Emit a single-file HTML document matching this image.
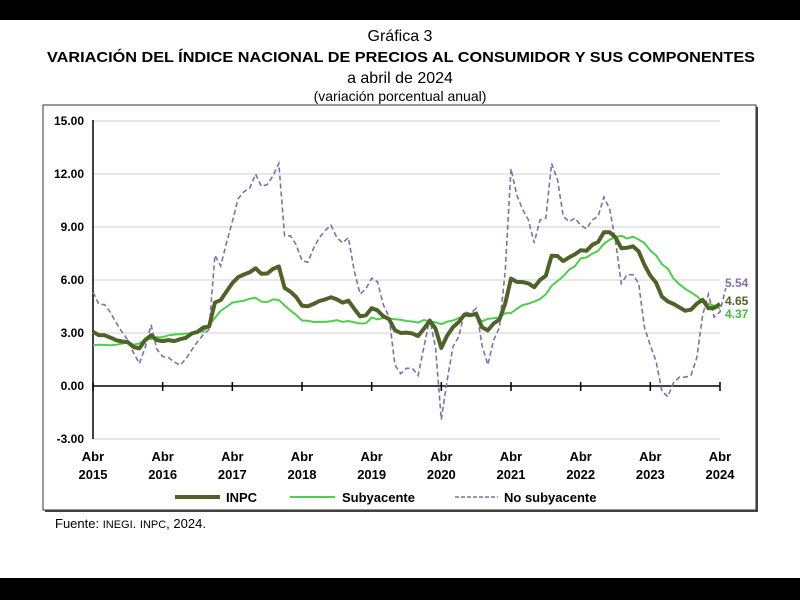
<!DOCTYPE html>
<html><head><meta charset="utf-8"><style>
body{margin:0;width:800px;height:600px;background:#fff;overflow:hidden;font-family:"Liberation Sans",Arial,sans-serif}
</style></head><body>
<svg width="800" height="600" xmlns="http://www.w3.org/2000/svg" font-family="Liberation Sans, Arial, sans-serif">
<rect x="0" y="0" width="800" height="20" fill="#000"/>
<rect x="0" y="578" width="800" height="22" fill="#000"/>
<text x="400" y="41" font-size="16" text-anchor="middle">Gráfica 3</text>
<text x="47" y="62" font-size="15" font-weight="bold" textLength="708" lengthAdjust="spacingAndGlyphs">VARIACIÓN DEL ÍNDICE NACIONAL DE PRECIOS AL CONSUMIDOR Y SUS COMPONENTES</text>
<text x="400" y="83" font-size="16" text-anchor="middle">a abril de 2024</text>
<text x="400" y="101" font-size="14" text-anchor="middle">(variación porcentual anual)</text>
<rect x="45" y="107" width="713" height="405" fill="#444"/>
<rect x="43" y="105" width="713" height="405" fill="#fff" stroke="#333" stroke-width="1"/>
<g id="grid" stroke="#d0d0d0" stroke-width="1"></g>
<g id="labels" font-size="12" font-weight="bold" text-anchor="end"></g>
<g id="xl" font-size="13" font-weight="bold" text-anchor="middle"></g>
<line x1="93" y1="120" x2="93" y2="439" stroke="#000" stroke-width="1.5"/>
<line x1="93" y1="386" x2="720" y2="386" stroke="#000" stroke-width="1.5"/>
<g id="ticks" stroke="#000" stroke-width="1.5"></g>
<polyline id="nsub" fill="none" stroke="#8070a8" stroke-width="1.6" stroke-dasharray="5,3"/>
<polyline id="sub" fill="none" stroke="#4cd04c" stroke-width="2"/>
<polyline id="inpc" fill="none" stroke="#4f6228" stroke-width="4" stroke-linejoin="round"/>
<text x="725" y="287" font-size="12" font-weight="bold" fill="#8070a8">5.54</text>
<text x="725" y="305" font-size="12" font-weight="bold" fill="#4f6228">4.65</text>
<text x="725" y="318" font-size="12" font-weight="bold" fill="#3cc03c">4.37</text>
<line x1="175" y1="497" x2="220" y2="497" stroke="#4f6228" stroke-width="4"/>
<text x="226" y="502" font-size="13" font-weight="bold">INPC</text>
<line x1="290" y1="497" x2="335" y2="497" stroke="#4cd04c" stroke-width="2"/>
<text x="342" y="502" font-size="13" font-weight="bold">Subyacente</text>
<line x1="455" y1="497" x2="498" y2="497" stroke="#8070a8" stroke-width="1.6" stroke-dasharray="4,2"/>
<text x="504" y="502" font-size="13" font-weight="bold">No subyacente</text>
<text x="55" y="528" font-size="13">Fuente: <tspan font-size="11">INEGI</tspan>. <tspan font-size="11">INPC</tspan>, 2024.</text>
</svg>
<script>
const NS="http://www.w3.org/2000/svg";
function el(p,t,a,txt){const e=document.createElementNS(NS,t);for(const k in a)e.setAttribute(k,a[k]);if(txt!==undefined)e.textContent=txt;document.getElementById(p).appendChild(e);}
const X=i=>93+i*627/108, Y=v=>386-v*53/3;
for(let v=-3;v<=15;v+=3){ if(v!==0) el("grid","line",{x1:93,x2:720,y1:Y(v),y2:Y(v)});
 el("labels","text",{x:84,y:Y(v)+4},v.toFixed(2));}
for(let k=0;k<=9;k++){const x=X(k*12);el("ticks","line",{x1:x,x2:x,y1:382,y2:391});
 el("xl","text",{x:x,y:461},"Abr");el("xl","text",{x:x,y:479},String(2015+k));}
const inpc=[3.06,2.88,2.87,2.74,2.59,2.52,2.48,2.21,2.13,2.61,2.87,2.60,2.54,2.60,2.54,2.65,2.73,2.97,3.06,3.31,3.36,4.72,4.86,5.35,5.82,6.16,6.31,6.44,6.66,6.35,6.37,6.63,6.77,5.55,5.34,5.04,4.55,4.51,4.65,4.81,4.90,5.02,4.90,4.72,4.83,4.37,3.94,4.00,4.41,4.28,3.95,3.78,3.16,3.00,3.02,2.97,2.83,3.24,3.70,3.25,2.15,2.84,3.33,3.62,4.05,4.01,4.09,3.33,3.15,3.54,3.76,4.67,6.08,5.89,5.88,5.81,5.59,6.00,6.24,7.37,7.36,7.07,7.28,7.45,7.68,7.65,7.99,8.15,8.70,8.70,8.41,7.80,7.82,7.91,7.62,6.85,6.25,5.84,5.06,4.79,4.64,4.45,4.26,4.32,4.66,4.88,4.40,4.42,4.65];
const sub=[2.31,2.33,2.32,2.31,2.33,2.40,2.47,2.34,2.41,2.64,2.66,2.76,2.77,2.87,2.91,2.94,2.97,2.96,3.09,3.08,3.44,3.85,4.26,4.48,4.72,4.78,4.83,4.94,5.00,4.77,4.75,4.90,4.87,4.56,4.27,4.02,3.71,3.69,3.62,3.63,3.63,3.67,3.73,3.63,3.68,3.60,3.54,3.55,3.87,3.77,3.85,3.82,3.78,3.75,3.68,3.65,3.59,3.73,3.66,3.60,3.50,3.64,3.71,3.85,3.97,3.99,3.98,3.66,3.80,3.84,3.87,4.12,4.13,4.37,4.58,4.66,4.78,4.92,5.19,5.67,5.94,6.21,6.59,6.78,7.22,7.28,7.49,7.65,8.05,8.28,8.42,8.51,8.35,8.45,8.29,8.09,7.67,7.39,6.89,6.64,6.08,5.76,5.50,5.30,5.09,4.76,4.64,4.55,4.37];
const ns=[5.31,4.63,4.60,4.17,3.57,3.06,2.60,1.87,1.27,2.20,3.46,2.07,1.67,1.61,1.36,1.17,1.54,2.03,2.51,2.90,3.20,7.40,6.80,8.10,9.30,10.60,11.00,11.20,12.00,11.30,11.40,11.90,12.60,8.50,8.50,8.00,7.10,7.00,7.80,8.40,8.80,9.10,8.40,8.10,8.40,6.50,5.20,5.50,6.10,5.90,4.60,3.90,1.20,0.70,1.00,1.00,0.60,2.20,3.80,2.20,-1.90,0.30,2.20,2.80,4.20,4.10,4.40,2.30,1.20,2.60,3.30,6.50,12.30,10.80,10.00,9.40,8.10,9.40,9.50,12.60,11.70,9.60,9.30,9.50,9.10,8.90,9.40,9.60,10.70,10.00,8.20,5.80,6.30,6.30,5.80,3.30,2.30,1.40,-0.30,-0.60,0.20,0.50,0.50,0.60,1.60,4.00,5.20,3.90,4.20,5.54];
const pts=a=>a.map((v,i)=>X(i).toFixed(1)+","+Y(v).toFixed(1)).join(" ");
document.getElementById("inpc").setAttribute("points",pts(inpc));
document.getElementById("sub").setAttribute("points",pts(sub));
document.getElementById("nsub").setAttribute("points",pts(ns));
</script>
</body></html>
